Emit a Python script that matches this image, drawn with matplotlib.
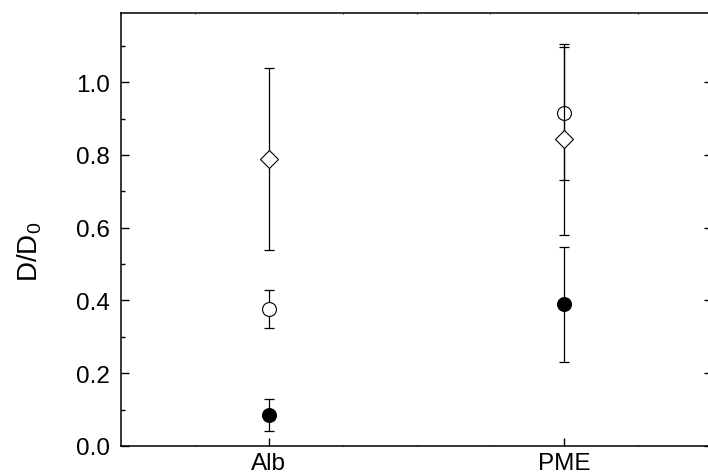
import numpy as np
import matplotlib
matplotlib.use("Agg")
import matplotlib.pyplot as plt
from matplotlib.ticker import MultipleLocator

# ============================================================
# DATA
# ============================================================

categories = ["Alb", "PME"]

filled_vals = [0.085, 0.390]
filled_err = [0.045, 0.158]

open_vals = [0.376, 0.914]
open_err = [0.053, 0.182]

diamond_vals = [0.789, 0.843]
diamond_err = [0.250, 0.262]

# ============================================================
# STYLE
# ============================================================

plt.rcParams['font.family'] = ['Liberation Sans', 'DejaVu Sans']
plt.rcParams['mathtext.fontset'] = 'custom'
plt.rcParams['mathtext.rm'] = 'Liberation Sans'
plt.rcParams['mathtext.it'] = 'Liberation Sans:italic'

# ============================================================
# PLOT
# ============================================================

fig = plt.figure(figsize=(7.08, 4.77), dpi=100)
ax = fig.add_axes([121 / 708, 30 / 477, 591 / 708, 433 / 477])

x = np.arange(1, len(categories) + 1)

common = dict(fmt='none', ecolor='black', elinewidth=0.9, capsize=3.8, capthick=0.9)

ax.errorbar(x, filled_vals, yerr=filled_err, **common)
ax.plot(x, filled_vals, 'o', ms=10, mfc='black', mec='black', mew=0.8)

ax.errorbar(x, open_vals, yerr=open_err, **common)
ax.plot(x, open_vals, 'o', ms=10, mfc='white', mec='black', mew=0.8)

ax.errorbar(x, diamond_vals, yerr=diamond_err, **common)
ax.plot(x, diamond_vals, 'D', ms=9.5, mfc='white', mec='black', mew=0.8)

# ============================================================
# AXES
# ============================================================

ax.set_xlim(0.5, 2.5)
ax.set_ylim(0, 1.19)

ax.set_xticks(x)
ax.set_xticklabels(categories)
ax.xaxis.set_minor_locator(MultipleLocator(0.25))

ax.yaxis.set_major_locator(MultipleLocator(0.2))
ax.yaxis.set_minor_locator(MultipleLocator(0.1))
ax.yaxis.set_major_formatter(matplotlib.ticker.FormatStrFormatter('%.1f'))

ax.tick_params(axis='y', which='major', direction='in', length=6, width=1,
               left=True, right=True, labelsize=17.5, pad=8)
ax.tick_params(axis='y', which='minor', direction='in', length=3, width=1,
               left=True, right=True)
ax.tick_params(axis='x', which='major', direction='in', length=6, width=1,
               bottom=True, top=False, labelsize=17.5, pad=4)
ax.tick_params(axis='x', which='minor', direction='in', length=1, width=0.6,
               bottom=True, top=True)

for s in ax.spines.values():
    s.set_linewidth(1.1)

ax.set_ylabel(r"D/D$_\mathregular{0}$", fontsize=20)
ax.yaxis.set_label_coords(-0.13, 0.45)

# ============================================================
# SAVE
# ============================================================

fig.savefig("out.png", dpi=100)
